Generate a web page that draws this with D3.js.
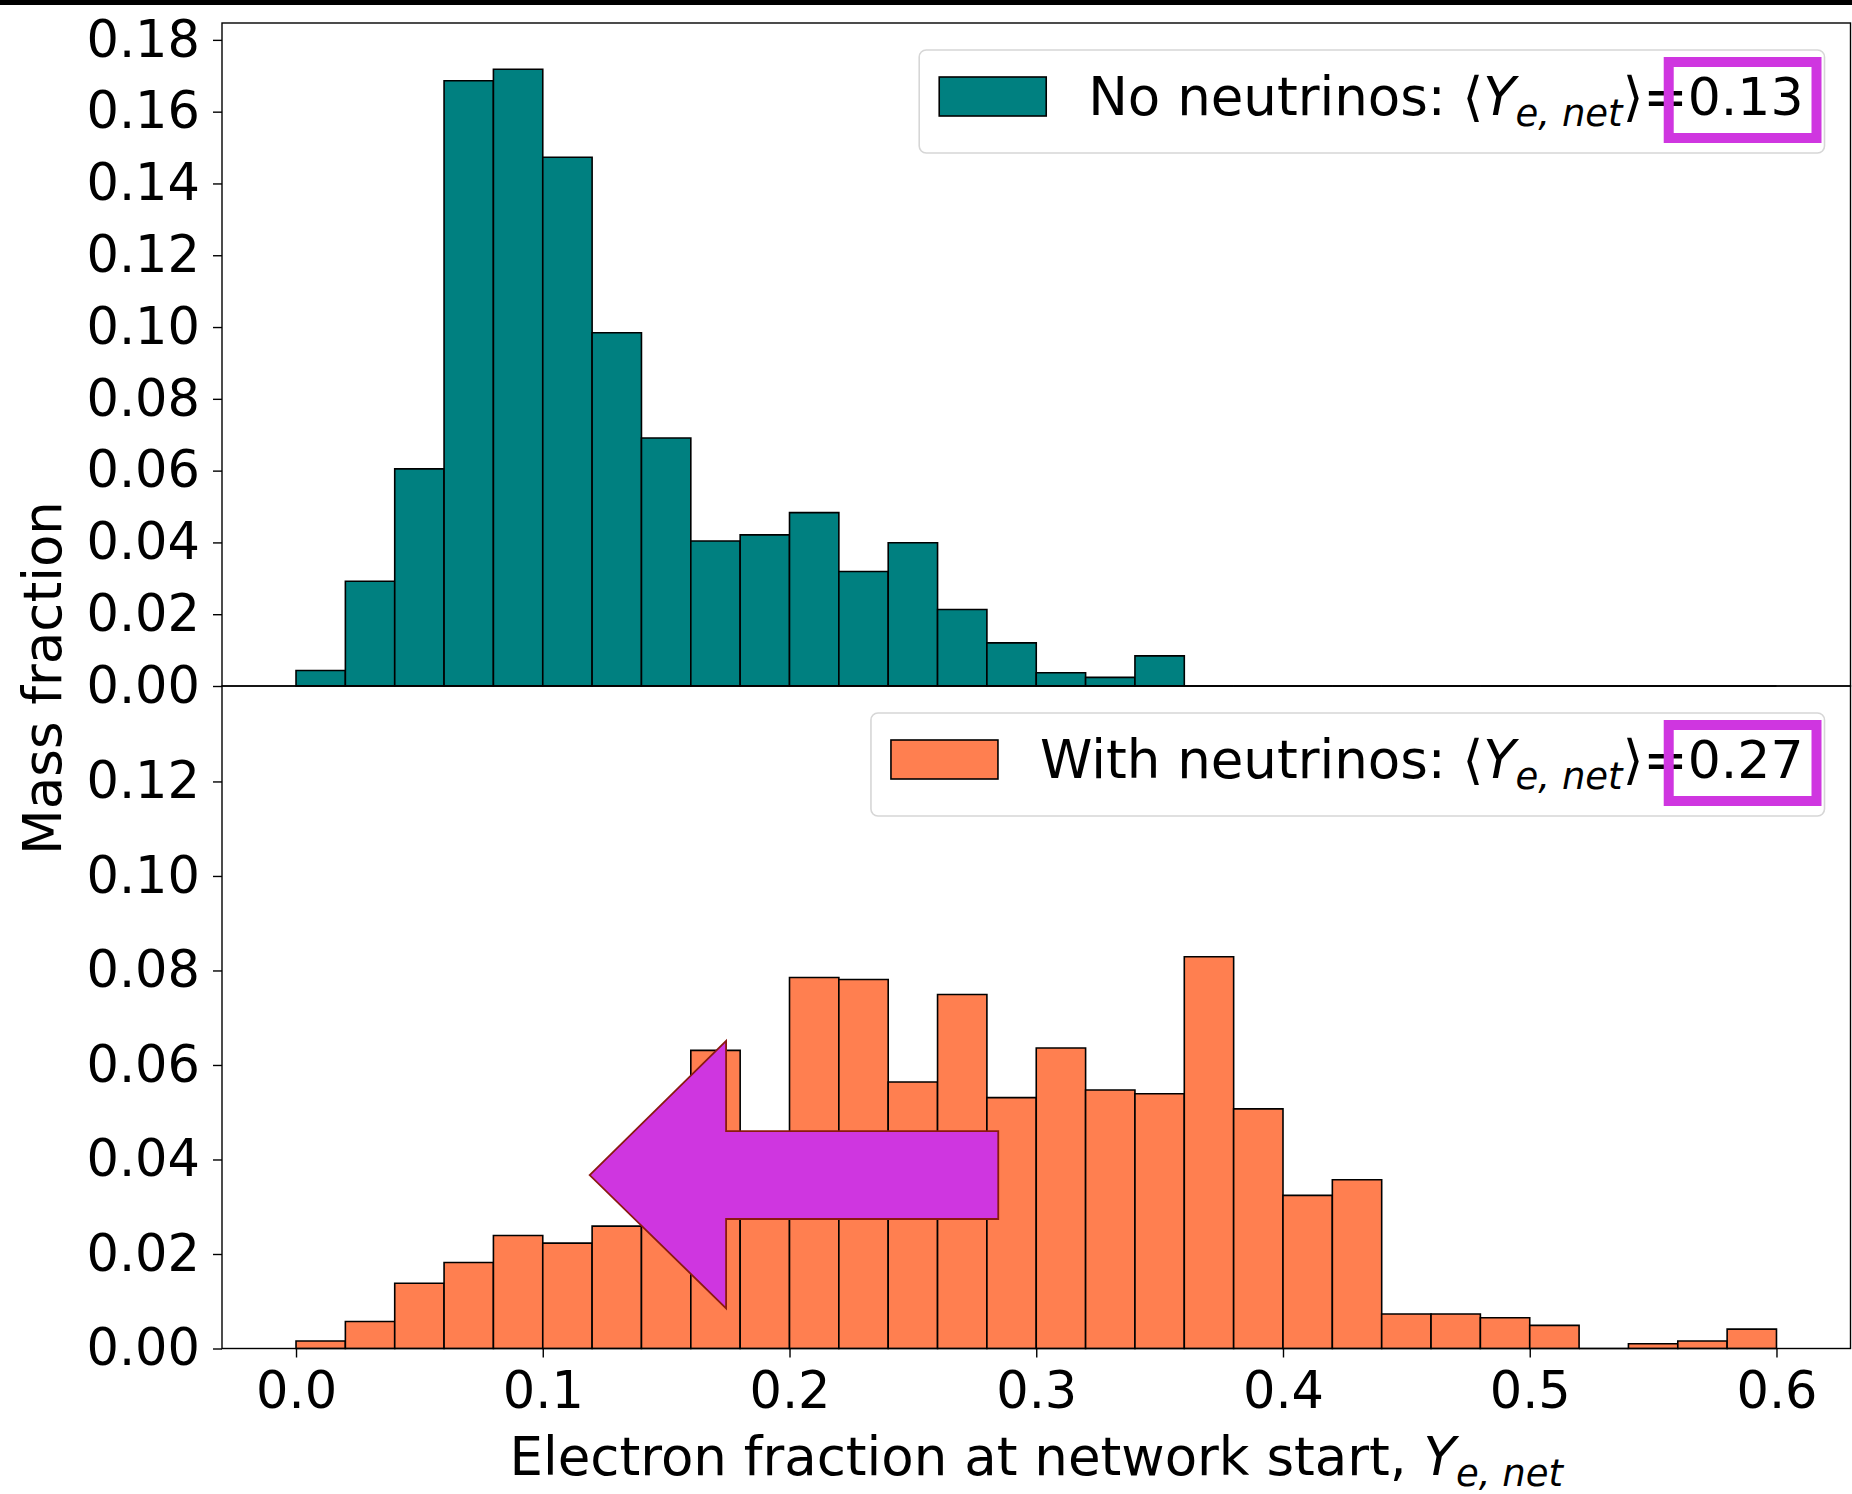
<!DOCTYPE html>
<html>
<head>
<meta charset="utf-8">
<title>Electron fraction at network start</title>
<script src="https://cdn.jsdelivr.net/npm/d3@7"></script>
<style>
  body { margin: 0; background: #fff; }
  text { font-family: "DejaVu Sans", sans-serif; }
</style>
</head>
<body>
<script>
// histogram bins (width 0.02)
const binEdges = [0.00, 0.02, 0.04, 0.06, 0.08, 0.10, 0.12, 0.14, 0.16, 0.18, 0.20,
                  0.22, 0.24, 0.26, 0.28, 0.30, 0.32, 0.34, 0.36, 0.38, 0.40,
                  0.42, 0.44, 0.46, 0.48, 0.50, 0.52, 0.54, 0.56, 0.58, 0.60];

// mass fraction per bin
const noNeutrinos = [0.0043, 0.0292, 0.0605, 0.1686, 0.1718, 0.1473, 0.0984, 0.0691, 0.0404, 0.0421,
                     0.0483, 0.0319, 0.0399, 0.0213, 0.0120, 0.0037, 0.0024, 0.0084, 0, 0,
                     0, 0, 0, 0, 0, 0, 0, 0, 0, 0];
const withNeutrinos = [0.0016, 0.0057, 0.0138, 0.0182, 0.0239, 0.0223, 0.0259, 0.0350, 0.0631, 0.0430,
                       0.0785, 0.0781, 0.0564, 0.0749, 0.0531, 0.0636, 0.0547, 0.0539, 0.0829, 0.0507,
                       0.0324, 0.0357, 0.0073, 0.0073, 0.0065, 0.0049, 0, 0.0010, 0.0016, 0.0041];

const xTicks = [0.0, 0.1, 0.2, 0.3, 0.4, 0.5, 0.6];
const yTicksTop = [0.00, 0.02, 0.04, 0.06, 0.08, 0.10, 0.12, 0.14, 0.16, 0.18];
const yTicksBottom = [0.00, 0.02, 0.04, 0.06, 0.08, 0.10, 0.12];

const legendLabels = ["No neutrinos: ", "With neutrinos: "];
const meanYe = ["0.13", "0.27"];

// arrow drawn in the lower panel, data coords [Ye, mass fraction]
const arrowPoints = [[0.119, 0.0367], [0.1743, 0.0651], [0.1743, 0.0460], [0.2846, 0.0460],
                     [0.2846, 0.0274], [0.1743, 0.0274], [0.1743, 0.0085]];

const W = 1852, H = 1494;
const FS = 51;      // tick labels
const LFS = 53;     // axis labels and legend text
const plotLeft = 222, plotRight = 1850.5, plotTop = 23, plotMid = 686, plotBottom = 1348.5;
const magenta = "#cf36e0";

const svg = d3.select("body").append("svg")
    .attr("width", W)
    .attr("height", H);

svg.append("rect").attr("width", W).attr("height", H).attr("fill", "#fff");
svg.append("rect").attr("width", W).attr("height", 5).attr("fill", "#000");

const x = d3.scaleLinear().domain([-0.03, 0.63]).range([plotLeft, plotRight]);
const yTop = d3.scaleLinear().domain([0, 0.1847]).range([plotMid, plotTop]);
const yBot = d3.scaleLinear().domain([0, 0.1402]).range([plotBottom, plotMid]);

function drawBars(values, y, fill) {
    svg.append("g").selectAll("path")
        .data(values)
        .join("path")
        .attr("d", (d, i) => {
            const x0 = x(binEdges[i]), x1 = x(binEdges[i + 1]);
            return `M${x0},${y(0)}V${y(d)}H${x1}V${y(0)}Z`;
        })
        .attr("fill", fill)
        .attr("stroke", "#000")
        .attr("stroke-width", 1.6)
        .attr("stroke-linejoin", "miter");
}

drawBars(noNeutrinos, yTop, "#008080");
drawBars(withNeutrinos, yBot, "coral");

// arrow annotation
svg.append("path")
    .datum(arrowPoints)
    .attr("d", d => "M" + d.map(p => [x(p[0]), yBot(p[1])].join(",")).join("L") + "Z")
    .attr("fill", magenta)
    .attr("stroke", "#8a1a10")
    .attr("stroke-width", 1.8);

// axes
function yAxis(scale, ticks) {
    const g = svg.append("g")
        .attr("transform", `translate(${plotLeft},0)`)
        .call(d3.axisLeft(scale).tickValues(ticks).tickFormat(d3.format(".2f"))
            .tickSize(9).tickPadding(13).tickSizeOuter(0));
    g.select(".domain").remove();
    g.selectAll("line").attr("stroke-width", 1.4);
    g.selectAll("text").attr("font-size", FS).attr("font-family", "DejaVu Sans").attr("fill", "#000");
}
yAxis(yTop, yTicksTop);
yAxis(yBot, yTicksBottom);

const gx = svg.append("g")
    .attr("transform", `translate(0,${plotBottom})`)
    .call(d3.axisBottom(x).tickValues(xTicks).tickFormat(d3.format(".1f"))
        .tickSize(9).tickPadding(14).tickSizeOuter(0));
gx.select(".domain").remove();
gx.selectAll("line").attr("stroke-width", 1.4);
gx.selectAll("text").attr("font-size", FS).attr("font-family", "DejaVu Sans").attr("fill", "#000");

// spines
[[plotTop, plotMid], [plotMid, plotBottom]].forEach(([t, b]) => {
    svg.append("rect")
        .attr("x", plotLeft).attr("y", t)
        .attr("width", plotRight - plotLeft).attr("height", b - t)
        .attr("fill", "none").attr("stroke", "#000").attr("stroke-width", 1.4);
});

// axis labels
svg.append("text")
    .attr("transform", `translate(61,678) rotate(-90)`)
    .attr("text-anchor", "middle")
    .attr("font-size", LFS)
    .text("Mass fraction");

const xl = svg.append("text")
    .attr("x", (plotLeft + plotRight) / 2)
    .attr("y", 1475)
    .attr("text-anchor", "middle")
    .attr("font-size", LFS);
xl.append("tspan").text("Electron fraction at network start, ");
xl.append("tspan").attr("font-style", "italic").text("Y");
xl.append("tspan").attr("font-style", "italic").attr("font-size", 37).attr("dy", 11).text("e, net");

// legends
function legend(i, fill, axTop) {
    const frameTop = axTop + 27;
    const frameH = 103;
    const frameRight = plotRight - 26;
    const baseline = frameTop + 65;

    const g = svg.append("g");
    const frame = g.append("rect");
    const patch = g.append("rect");

    const t = g.append("text").attr("y", baseline).attr("font-size", LFS);
    t.append("tspan").text(legendLabels[i] + "\u27E8");
    t.append("tspan").attr("font-style", "italic").text("Y");
    t.append("tspan").attr("font-style", "italic").attr("font-size", 37).attr("dy", 11).text("e, net");
    t.append("tspan").attr("dy", -11).text("\u27E9=");
    const val = t.append("tspan").attr("font-size", 52).text(meanYe[i]);

    const total = t.node().getComputedTextLength();
    const valLen = val.node().getComputedTextLength();
    const textEnd = frameRight - 21;
    const textStart = textEnd - total;
    t.attr("x", textStart);

    const patchRight = textStart - 42;
    const patchLeft = patchRight - 107;
    const frameLeft = patchLeft - 20;

    frame.attr("x", frameLeft).attr("y", frameTop)
        .attr("width", frameRight - frameLeft).attr("height", frameH)
        .attr("rx", 7).attr("fill", "#fff").attr("fill-opacity", 0.8)
        .attr("stroke", "#d6d6d6").attr("stroke-width", 1.6);
    patch.attr("x", patchLeft).attr("y", frameTop + 27)
        .attr("width", patchRight - patchLeft).attr("height", 39)
        .attr("fill", fill).attr("stroke", "#000").attr("stroke-width", 1.6);

    const vStart = textEnd - valLen;
    g.append("rect")
        .attr("x", vStart - 19).attr("y", baseline - 53)
        .attr("width", valLen + 19 + 13).attr("height", 76)
        .attr("fill", "none").attr("stroke", magenta).attr("stroke-width", 10);
}
legend(0, "#008080", plotTop);
legend(1, "coral", plotMid);
</script>
</body>
</html>
